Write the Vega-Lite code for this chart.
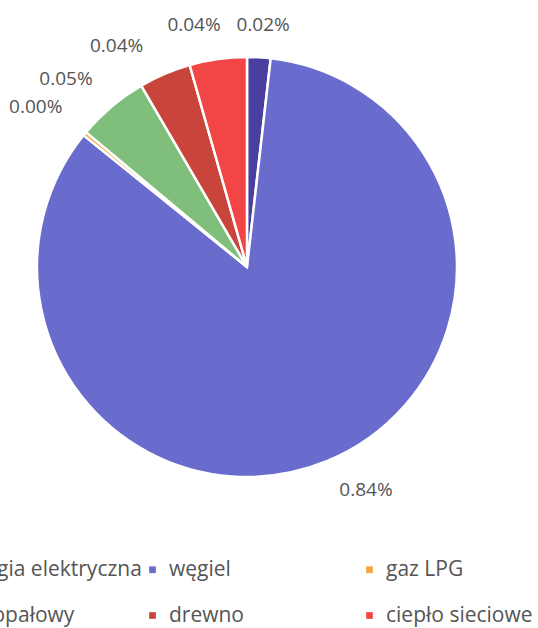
{
  "$schema": "https://vega.github.io/schema/vega-lite/v6.json",
  "width": 494,
  "height": 534,
  "autosize": {"type": "none"},
  "padding": {"left": 0, "top": 0, "right": 44, "bottom": 94},
  "background": "white",
  "config": {"view": {"stroke": null}, "font": "Open Sans"},
  "data": {
    "values": [
      {"nosnik": "energia elektryczna", "udzial": 0.018, "etykieta": "0.02%", "kolejnosc": 1},
      {"nosnik": "węgiel", "udzial": 0.84, "etykieta": "0.84%", "kolejnosc": 2},
      {"nosnik": "gaz LPG", "udzial": 0.003, "etykieta": "0.00%", "kolejnosc": 3},
      {"nosnik": "olej opałowy", "udzial": 0.055, "etykieta": "0.05%", "kolejnosc": 4},
      {"nosnik": "drewno", "udzial": 0.04, "etykieta": "0.04%", "kolejnosc": 5},
      {"nosnik": "ciepło sieciowe", "udzial": 0.044, "etykieta": "0.04%", "kolejnosc": 6}
    ]
  },
  "encoding": {
    "theta": {"field": "udzial", "type": "quantitative", "stack": true},
    "order": {"field": "kolejnosc", "type": "quantitative"}
  },
  "layer": [
    {
      "mark": {"type": "arc", "outerRadius": 210, "stroke": "white", "strokeWidth": 2.5},
      "encoding": {
        "color": {
          "field": "nosnik",
          "type": "nominal",
          "scale": {
            "domain": ["energia elektryczna", "węgiel", "gaz LPG", "olej opałowy", "drewno", "ciepło sieciowe"],
            "range": ["#4a3f9e", "#6a6ccd", "#f3a63f", "#7fbf7b", "#c9443a", "#f24646"]
          },
          "legend": {
            "title": null,
            "orient": "none",
            "legendX": -75,
            "legendY": 559,
            "direction": "horizontal",
            "columns": 3,
            "gridAlign": "all",
            "symbolType": "square",
            "symbolSize": 45,
            "symbolStrokeWidth": 0,
            "labelFont": "Open Sans",
            "labelFontSize": 21,
            "labelColor": "#555555",
            "labelOffset": 6,
            "labelLimit": 300,
            "columnPadding": -4,
            "rowPadding": 24,
            "padding": 0
          }
        }
      }
    },
    {
      "mark": {"type": "text", "radius": 243, "thetaOffset": 0.01, "font": "Open Sans", "fontSize": 19, "color": "#555555"},
      "encoding": {
        "text": {"condition": {"test": "datum.kolejnosc == 1", "field": "etykieta"}, "value": ""}
      }
    },
    {
      "mark": {"type": "text", "radius": 253, "thetaOffset": -0.1, "font": "Open Sans", "fontSize": 19, "color": "#555555"},
      "encoding": {
        "text": {"condition": {"test": "datum.kolejnosc == 2", "field": "etykieta"}, "value": ""}
      }
    },
    {
      "mark": {"type": "text", "radius": 265, "thetaOffset": -0.04, "font": "Open Sans", "fontSize": 19, "color": "#555555"},
      "encoding": {
        "text": {"condition": {"test": "datum.kolejnosc == 3", "field": "etykieta"}, "value": ""}
      }
    },
    {
      "mark": {"type": "text", "radius": 261, "thetaOffset": -0.066, "font": "Open Sans", "fontSize": 19, "color": "#555555"},
      "encoding": {
        "text": {"condition": {"test": "datum.kolejnosc == 4", "field": "etykieta"}, "value": ""}
      }
    },
    {
      "mark": {"type": "text", "radius": 257, "thetaOffset": -0.13, "font": "Open Sans", "fontSize": 19, "color": "#555555"},
      "encoding": {
        "text": {"condition": {"test": "datum.kolejnosc == 5", "field": "etykieta"}, "value": ""}
      }
    },
    {
      "mark": {"type": "text", "radius": 248, "thetaOffset": -0.077, "font": "Open Sans", "fontSize": 19, "color": "#555555"},
      "encoding": {
        "text": {"condition": {"test": "datum.kolejnosc == 6", "field": "etykieta"}, "value": ""}
      }
    }
  ]
}
